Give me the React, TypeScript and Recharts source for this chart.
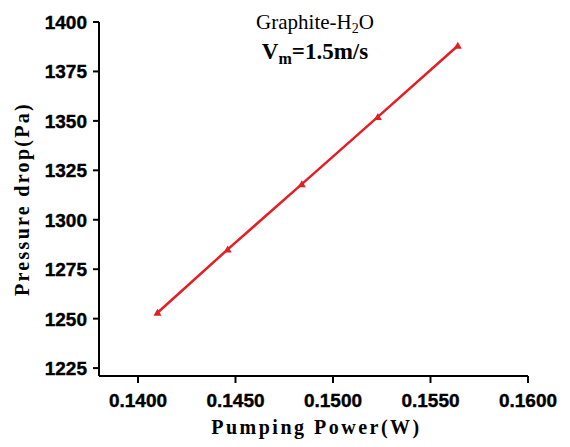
import { LineChart, Line, XAxis, YAxis, Label } from "recharts";

const pumpingPower = [0.141, 0.1446, 0.1484, 0.1523, 0.1564];
const pressureDrop = [1253, 1285, 1318, 1352, 1388];
const xTicks = [0.14, 0.145, 0.15, 0.155, 0.16];
const yTicks = [1225, 1250, 1275, 1300, 1325, 1350, 1375, 1400];

const data = pumpingPower.map((x, i) => ({ x, y: pressureDrop[i] }));

const RED = "#e31e24";
const SANS = "Arial, 'Liberation Sans', sans-serif";
const SERIF = "'Liberation Serif', 'Times New Roman', serif";

const tickText = {
    fontFamily: SANS,
    fontWeight: 700,
    fontSize: 19,
    fill: "#000",
    stroke: "#000",
    strokeWidth: 0.4,
};

function Triangle(props: any) {
    const { cx, cy } = props;
    if (cx == null || cy == null) return null;
    return (
        <polygon
            points={`${cx - 4},${cy + 3} ${cx + 4},${cy + 3} ${cx},${cy - 4}`}
            fill={RED}
        />
    );
}

function XTick(props: any) {
    const { x, y, payload } = props;
    return (
        <text x={x} y={y} dy={14} textAnchor="middle" style={tickText}>
            {Number(payload.value).toFixed(4)}
        </text>
    );
}

function YTick(props: any) {
    const { x, y, payload } = props;
    return (
        <text x={x} y={y} dy={7} textAnchor="end" style={tickText}>
            {payload.value}
        </text>
    );
}

export default function App() {
    return (
        <div style={{ position: "absolute", left: 0, top: 0, width: 570, height: 447, background: "#fff" }}>
            <LineChart
                width={570}
                height={447}
                data={data}
                margin={{ top: 22, right: 42, left: 0, bottom: 0 }}
            >
                <XAxis
                    type="number"
                    dataKey="x"
                    domain={[0.138, 0.16]}
                    ticks={xTicks}
                    height={71}
                    tickSize={7}
                    tickMargin={10}
                    axisLine={{ stroke: "#000", strokeWidth: 2 }}
                    tickLine={{ stroke: "#000", strokeWidth: 2 }}
                    tick={<XTick />}
                    interval={0}
                >
                    <Label
                        content={({ viewBox }: any) => (
                            <text
                                x={viewBox.x + viewBox.width / 2 + 3}
                                y={viewBox.y + 58}
                                textAnchor="middle"
                                fontFamily={SERIF}
                                fontWeight={700}
                                fontSize={20}
                                letterSpacing={2.5}
                                fill="#000"
                            >
                                Pumping Power(W)
                            </text>
                        )}
                    />
                </XAxis>
                <YAxis
                    type="number"
                    domain={[1221, 1400]}
                    ticks={yTicks}
                    width={99}
                    tickSize={6}
                    tickMargin={6}
                    axisLine={{ stroke: "#000", strokeWidth: 2 }}
                    tickLine={{ stroke: "#000", strokeWidth: 2 }}
                    tick={<YTick />}
                    interval={0}
                >
                    <Label
                        content={({ viewBox }: any) => {
                            const cx = 22;
                            const cy = viewBox.y + viewBox.height / 2;
                            return (
                                <text
                                    x={cx}
                                    y={cy}
                                    transform={`rotate(-90 ${cx} ${cy})`}
                                    textAnchor="middle"
                                    dominantBaseline="central"
                                    fontFamily={SERIF}
                                    fontWeight={700}
                                    fontSize={20}
                                    letterSpacing={2.3}
                                    fill="#000"
                                >
                                    Pressure drop(Pa)
                                </text>
                            );
                        }}
                    />
                </YAxis>
                <Line
                    type="linear"
                    dataKey="y"
                    stroke={RED}
                    strokeWidth={2.5}
                    dot={<Triangle />}
                    activeDot={false}
                    isAnimationActive={false}
                />
            </LineChart>
            <div
                style={{
                    position: "absolute",
                    left: 215,
                    top: 8,
                    width: 200,
                    textAlign: "center",
                    fontFamily: SERIF,
                    color: "#000",
                    lineHeight: "29px",
                }}
            >
                <div style={{ fontSize: 21 }}>
                    Graphite-H<sub style={{ fontSize: 14, verticalAlign: "-4px", lineHeight: 0 }}>2</sub>O
                </div>
                <div style={{ fontSize: 23, fontWeight: 700 }}>
                    V<sub style={{ fontSize: 16, verticalAlign: "-5px", lineHeight: 0 }}>m</sub>=1.5m/s
                </div>
            </div>
        </div>
    );
}
